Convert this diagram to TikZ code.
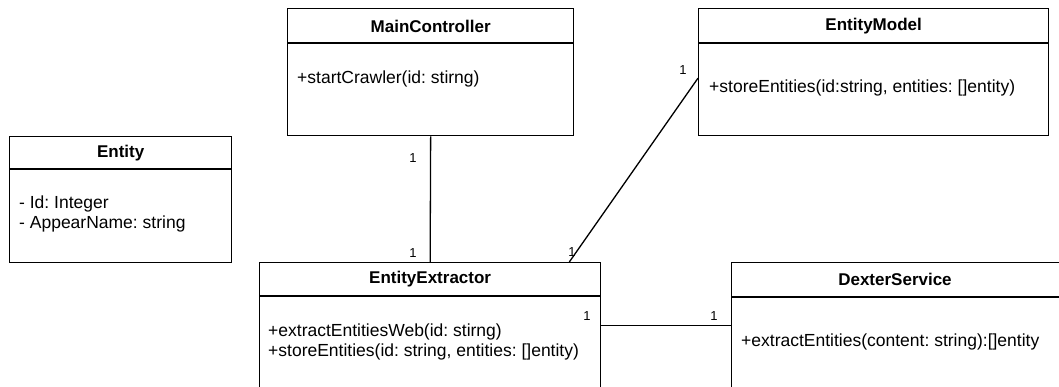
\documentclass[tikz,border=0pt]{standalone}
\usepackage{fontspec}
\setmainfont{Liberation Sans}
\usetikzlibrary{positioning,calc}
\frenchspacing

\tikzset{
  classbox/.style={draw,line width=1.3pt,anchor=north west,inner sep=0pt},
  classname/.style={font=\fontsize{17}{20}\selectfont\bfseries,inner sep=0pt},
  member/.style={anchor=west,align=left,inner sep=0pt},
  mult/.style={font=\fontsize{13}{15}\selectfont,inner sep=0pt},
  assoc/.style={line width=1.3pt},
}

\begin{document}
\begin{tikzpicture}[x=1pt,y=-1pt,font=\fontsize{17.5}{20.5}\selectfont]
  \useasboundingbox (0,0) rectangle (1059,387);
  \clip (0,0) rectangle (1059,387);

  % Entity
  \node[classbox,minimum width=222pt,minimum height=126pt] (entity) at (9,136) {};
  \draw[assoc] ($(entity.north west)+(0,33)$) -- ($(entity.north east)+(0,33)$);
  \node[classname] (entityname) at ($(entity.north)+(0,17)$) {Entity};
  \node[member] (entityattr) at (19,214) {- Id: Integer\\- AppearName: string};

  % MainController
  \node[classbox,minimum width=286pt,minimum height=127pt] (main) at (287,8) {};
  \draw[assoc] ($(main.north west)+(0,35)$) -- ($(main.north east)+(0,35)$);
  \node[classname] (mainname) at ($(main.north)+(0,18)$) {MainController};
  \node[member] (mainop) at (297,79) {+startCrawler(id: stirng)};

  % EntityModel
  \node[classbox,minimum width=350pt,minimum height=127pt] (model) at (698,8) {};
  \draw[assoc] ($(model.north west)+(0,35)$) -- ($(model.north east)+(0,35)$);
  \node[classname] (modelname) at ($(model.north)+(0,18)$) {EntityModel};
  \node[member] (modelop) at (709,88) {+storeEntities(id:string, entities: []entity)};

  % EntityExtractor (runs off the bottom)
  \node[classbox,minimum width=341pt,minimum height=126pt] (extractor) at (259,262) {};
  \draw[assoc] ($(extractor.north west)+(0,34)$) -- ($(extractor.north east)+(0,34)$);
  \node[classname] (extractorname) at ($(extractor.north)+(0,17)$) {EntityExtractor};
  \node[member] (extractorop) at (268,342)
    {+extractEntitiesWeb(id: stirng)\\+storeEntities(id: string, entities: []entity)};

  % DexterService (runs off the right)
  \node[classbox,minimum width=340pt,minimum height=126pt] (dexter) at (731,262) {};
  \draw[assoc] ($(dexter.north west)+(0,35)$) -- ($(dexter.north east)+(0,35)$);
  \node[classname] (dextername) at (895,279) {DexterService};
  \node[member] (dexterop) at (741,342) {+extractEntities(content: string):[]entity};

  % associations
  \draw[assoc] (main.south) -- (extractor.north);
  \node[mult] (m1) at (413,158) {1};
  \node[mult] (m2) at (413,253) {1};

  \coordinate (modelend) at ($(model.west)+(0,6)$);
  \coordinate (extractorend) at ($(extractor.north east)+(-32,0)$);
  \draw[assoc] (modelend) -- (extractorend);
  \node[mult] (m3) at (683,70) {1};
  \node[mult] (m4) at (572,252) {1};

  \draw[assoc] (extractor.east) -- (dexter.west);
  \node[mult] (m5) at (587,316) {1};
  \node[mult] (m6) at (714,316) {1};
\end{tikzpicture}
\end{document}
